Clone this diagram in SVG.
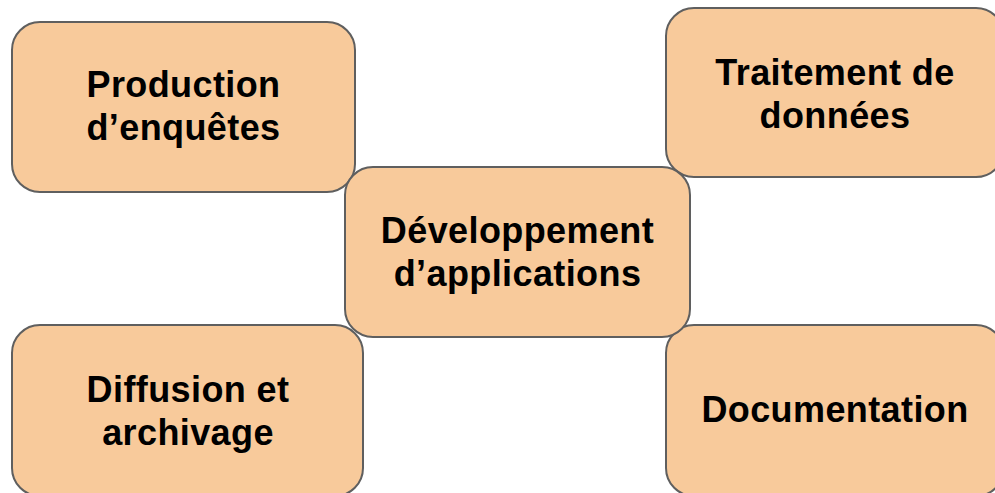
<svg xmlns="http://www.w3.org/2000/svg" width="995" height="493" viewBox="0 0 995 493">
<style>
.box{fill:#f8ca9b;stroke:#5f5f5f;stroke-width:2}
.lbl{font-family:"Liberation Sans",Arial,sans-serif;font-weight:bold;font-size:36px;letter-spacing:0.4px;fill:#000;text-anchor:middle}
</style>
<rect width="995" height="493" fill="#ffffff"/>
<g id="connectors"></g>
<g id="node-production">
<rect class="box" x="12" y="22" width="343" height="170" rx="28" ry="28"/>
<text class="lbl" x="183.5" y="97">Production</text>
<text class="lbl" x="183.5" y="140">d’enquêtes</text>
</g>
<g id="node-traitement">
<rect class="box" x="666" y="8" width="338" height="169" rx="28" ry="28"/>
<text class="lbl" x="835" y="85">Traitement de</text>
<text class="lbl" x="835" y="128">données</text>
</g>
<g id="node-diffusion">
<rect class="box" x="12" y="325" width="351" height="171" rx="28" ry="28"/>
<text class="lbl" x="188" y="402">Diffusion et</text>
<text class="lbl" x="188" y="445">archivage</text>
</g>
<g id="node-documentation">
<rect class="box" x="666" y="325" width="338" height="171" rx="28" ry="28"/>
<text class="lbl" x="835" y="422">Documentation</text>
</g>
<g id="node-developpement">
<rect class="box" x="345" y="167" width="345" height="170" rx="28" ry="28"/>
<text class="lbl" x="517.5" y="243">Développement</text>
<text class="lbl" x="517.5" y="286">d’applications</text>
</g>
</svg>
